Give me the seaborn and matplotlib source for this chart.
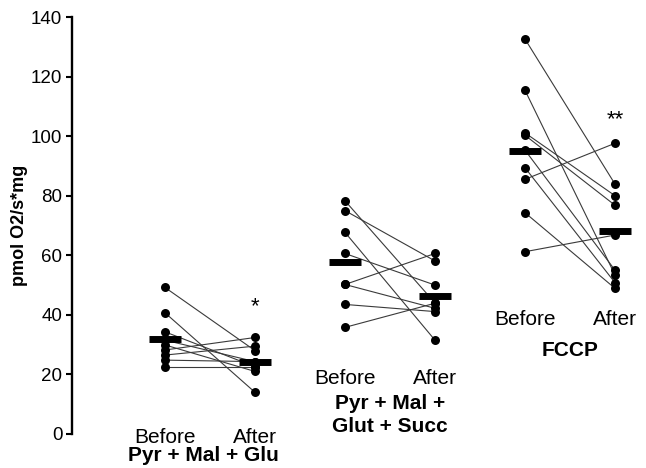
import matplotlib
matplotlib.use("Agg")
import matplotlib.pyplot as plt
import seaborn as sns
import numpy as np
import pandas as pd

# ---------------- data ----------------
groups = ["Pyr + Mal + Glu", "Pyr + Mal +\nGlut + Succ", "FCCP"]
phases = ["Before", "After"]

glu_before = [49.2, 40.7, 34.3, 31.5, 29.9, 28.2, 26.5, 24.8, 22.6]
glu_after = [28.0, 14.0, 22.6, 24.3, 21.0, 32.4, 29.5, 24.3, 22.6]

succ_before = [78.3, 75.0, 67.7, 60.6, 50.2, 50.2, 43.5, 35.8]
succ_after = [44.0, 58.1, 31.5, 50.0, 60.6, 42.2, 41.1, 43.9]

fccp_before = [132.6, 115.4, 101.1, 100.3, 95.3, 89.4, 85.5, 74.3, 61.2]
fccp_after = [83.9, 53.4, 80.0, 76.8, 55.0, 50.8, 97.6, 48.9, 66.8]

significance = ["*", "", "**"]
signif_y = [42.7, None, 105.5]

yticks = [0, 20, 40, 60, 80, 100, 120, 140]
ylabel = "pmol O2/s*mg"

# ---------------- build table ----------------
series = [(glu_before, glu_after), (succ_before, succ_after), (fccp_before, fccp_after)]
rows = []
for gi, (b, a) in enumerate(series):
    for si, (vb, va) in enumerate(zip(b, a)):
        rows.append(dict(group=gi, subject=f"{gi}-{si}", phase="Before", pos=gi * 2, value=vb))
        rows.append(dict(group=gi, subject=f"{gi}-{si}", phase="After", pos=gi * 2 + 1, value=va))
df = pd.DataFrame(rows)

# ---------------- style ----------------
sns.set_style("white")
plt.rcParams["font.family"] = ["Liberation Sans", "DejaVu Sans"]
plt.rcParams["text.color"] = "black"
plt.rcParams["axes.labelcolor"] = "black"

fig = plt.figure(figsize=(6.46, 4.68), dpi=100)
ax = fig.add_axes([72 / 646, 1 - 434 / 468, 1 - 72 / 646, (434 - 17) / 468])

# connecting lines
sns.lineplot(data=df, x="pos", y="value", units="subject", estimator=None,
             color="#3a3a3a", linewidth=0.8, ax=ax, legend=False, zorder=2)
# points
sns.scatterplot(data=df, x="pos", y="value", color="black", s=42,
                edgecolor="black", linewidth=0, ax=ax, legend=False, zorder=3)

# mean bars
means = df.groupby("pos")["value"].mean()
ax.hlines(means.values, means.index - 0.18, means.index + 0.18,
          colors="black", linewidth=5, zorder=4)

# significance marks
for gi, (sym, sy) in enumerate(zip(significance, signif_y)):
    if sym:
        ax.text(gi * 2 + 1, sy, sym, ha="center", va="center", fontsize=16,
                color="black", zorder=5)

# category labels (Before/After) and group names
phase_y = [-1.3, 18.8, 38.3]
group_y = [-7.2, 6.3, 28.0]
group_dx = [-0.07, 0.0, 0.0]
for gi, g in enumerate(groups):
    for pi, p in enumerate(phases):
        ax.text(gi * 2 + pi, phase_y[gi], p, ha="center", va="center",
                fontsize=15, color="black", clip_on=False)
    ax.text(gi * 2 + 0.5 + group_dx[gi], group_y[gi], g, ha="center", va="center",
            fontsize=15, fontweight="bold", color="black", clip_on=False,
            linespacing=1.25)

# axes
ax.set_xlim(-1.033, (646 - 165) / 90)
ax.set_ylim(0, 140)
ax.set_yticks(yticks)
ax.set_xticks([])
ax.set_xlabel("")
ax.set_ylabel(ylabel, fontsize=13, fontweight="bold", color="black")
ax.yaxis.set_label_coords(-0.076, 0.5)
for side in ["top", "right", "bottom"]:
    ax.spines[side].set_visible(False)
ax.spines["left"].set_linewidth(1.7)
ax.spines["left"].set_color("black")
ax.tick_params(axis="y", direction="out", length=4, width=1.5, pad=3,
               labelsize=13.5, colors="black", left=True)
ax.patch.set_alpha(0)

fig.savefig("out.png", dpi=100)
